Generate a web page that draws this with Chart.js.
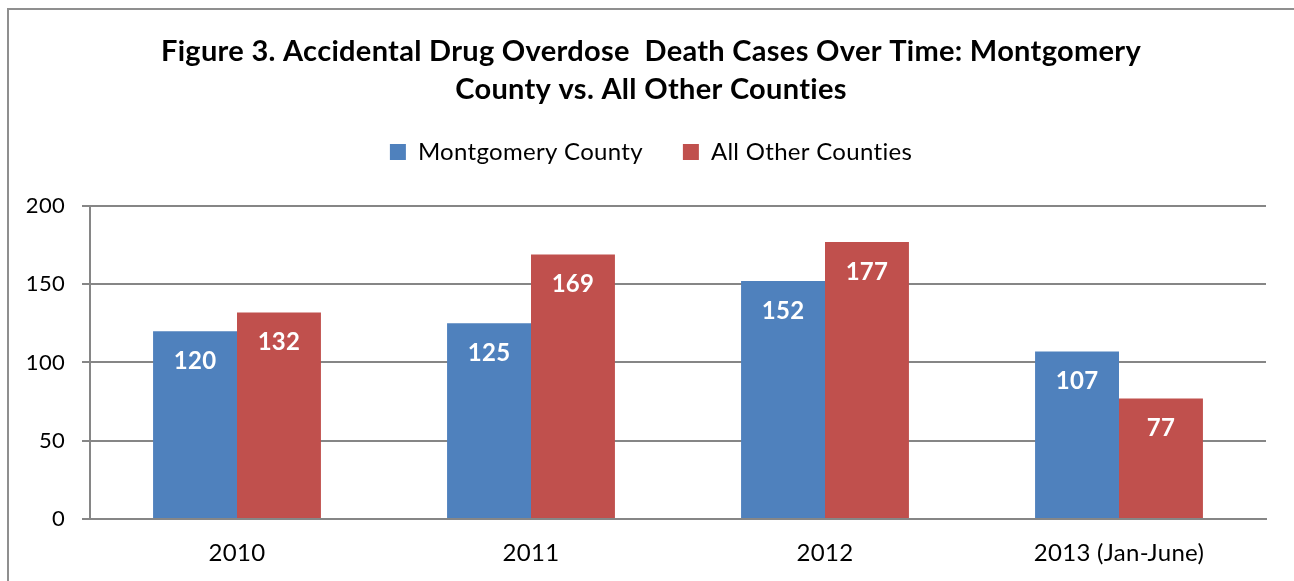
<!DOCTYPE html>
<html>
<head>
<meta charset="utf-8">
<script src="https://cdn.jsdelivr.net/npm/chart.js@4.4.1/dist/chart.umd.min.js"></script>
<style>
  html, body { margin: 0; padding: 0; background: #fff; }
  #wrap { position: relative; width: 1294px; height: 581px; overflow: hidden; }
  #frame {
    position: absolute; left: 7px; top: 8px; width: 1400px; height: 700px;
    border-left: 2px solid #8f8f8f; border-top: 2px solid #8f8f8f;
  }
  canvas { position: absolute; left: 0; top: 0; }
</style>
</head>
<body>
<div id="wrap">
  <div id="frame"></div>
  <canvas id="grafico" width="1294" height="581"></canvas>
</div>
<script>
// dados do grafico
const anos = ["2010", "2011", "2012", "2013 (Jan-June)"];
const montgomery = [120, 125, 152, 107];
const outrosCondados = [132, 169, 177, 77];
const marcasY = [0, 50, 100, 150, 200];

const FONTE = "Lato, 'Open Sans', sans-serif";
const AZUL = "#4F81BD";
const VERMELHO = "#C0504D";
const CINZA = "#868686";

// espaco extra entre a legenda e a area do grafico
const ESPACO_LEGENDA = 32;
// titulo e legenda ficam um pouco a direita do centro do canvas
const DESLOCAMENTO_TOPO = 18;

const ajustes = {
  id: "ajustes",
  beforeLayout(chart) {
    // pequeno espacamento entre letras (tira as ligaduras "ti" da Lato)
    chart.ctx.letterSpacing = "0.3px";
    const lg = chart.legend;
    if (lg && !lg._ajustado) {
      const fitOriginal = lg.fit.bind(lg);
      lg.fit = function () {
        fitOriginal();
        this.height += ESPACO_LEGENDA;
      };
      lg._ajustado = true;
    }
  },
  afterLayout(chart) {
    [chart.titleBlock, chart.legend].forEach((caixa) => {
      if (!caixa) return;
      caixa.left += DESLOCAMENTO_TOPO;
      caixa.right += DESLOCAMENTO_TOPO;
    });
  },
  beforeDraw(chart) {
    chart.ctx.letterSpacing = "0.3px";
  },
};

// escreve o valor de cada barra dentro dela, perto do topo
const rotulosBarras = {
  id: "rotulosBarras",
  afterDatasetsDraw(chart) {
    const ctx = chart.ctx;
    ctx.save();
    ctx.font = "bold 24px " + FONTE;
    ctx.fillStyle = "#fff";
    ctx.textAlign = "center";
    ctx.textBaseline = "middle";
    chart.data.datasets.forEach((ds, i) => {
      chart.getDatasetMeta(i).data.forEach((barra, j) => {
        ctx.fillText(String(ds.data[j]), barra.x, barra.y + 30);
      });
    });
    ctx.restore();
  },
};

new Chart(document.getElementById("grafico"), {
  type: "bar",
  data: {
    labels: anos,
    datasets: [
      { label: "Montgomery County", data: montgomery, backgroundColor: AZUL },
      { label: "All Other Counties", data: outrosCondados, backgroundColor: VERMELHO },
    ],
  },
  options: {
    responsive: false,
    animation: false,
    events: [],
    categoryPercentage: 0.571,
    barPercentage: 1,
    layout: { padding: { top: 0, right: 28, bottom: 0, left: 0 } },
    plugins: {
      tooltip: { enabled: false },
      title: {
        display: true,
        text: [
          "Figure 3. Accidental Drug Overdose  Death Cases Over Time: Montgomery",
          "County vs. All Other Counties",
        ],
        color: "#000",
        font: { family: FONTE, size: 29, weight: "bold", lineHeight: 1.31 },
        padding: { top: 33, bottom: -9 },
      },
      legend: {
        position: "top",
        labels: {
          color: "#000",
          font: { family: FONTE, size: 24 },
          boxWidth: 16,
          boxHeight: 16,
          padding: 40,
        },
      },
    },
    scales: {
      x: {
        grid: { display: false },
        border: { display: true, color: CINZA, width: 2 },
        ticks: { color: "#000", font: { family: FONTE, size: 24 }, padding: 12 },
        afterFit(s) { s.height = 62; },
      },
      y: {
        min: 0,
        max: 200,
        afterBuildTicks(s) { s.ticks = marcasY.map((v) => ({ value: v })); },
        grid: { color: CINZA, lineWidth: 2, tickLength: 8 },
        border: { display: true, color: CINZA, width: 2 },
        ticks: { color: "#000", font: { family: FONTE, size: 22 }, padding: 17 },
        afterFit(s) { s.width = 90; },
      },
    },
  },
  plugins: [ajustes, rotulosBarras],
});
</script>
</body>
</html>
